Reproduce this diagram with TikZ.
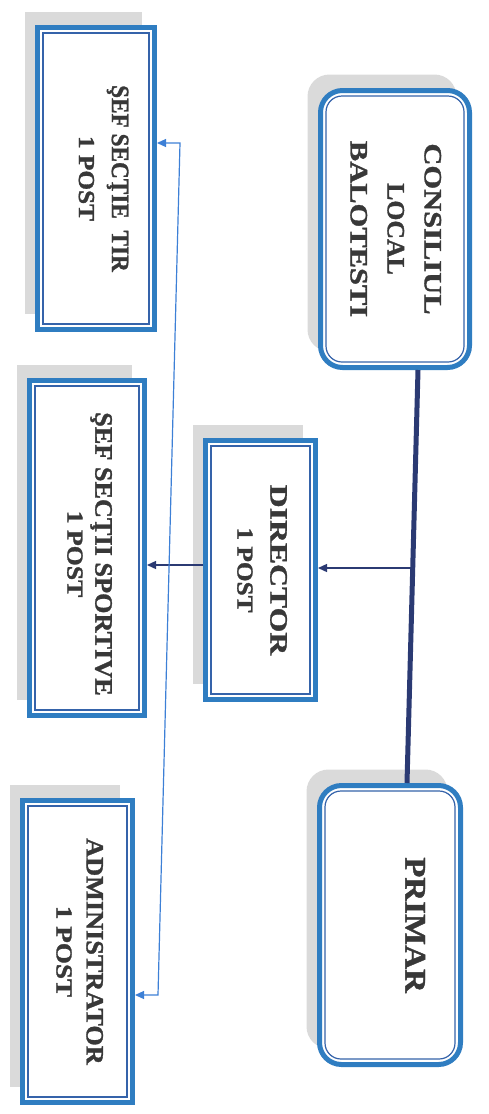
\documentclass[tikz,border=0pt]{standalone}
\usepackage{fontspec}
\setmainfont{Liberation Serif}[BoldFeatures={FakeBold=1.2}]
\usepackage{graphicx}
\usetikzlibrary{arrows.meta,shadows,calc}
\definecolor{boxblue}{HTML}{2F7DC1}
\definecolor{innerblue}{HTML}{3563AA}
\definecolor{navy}{HTML}{2B3A73}
\definecolor{linkblue}{HTML}{3D80D6}
\definecolor{txtgray}{HTML}{383838}
\definecolor{shade}{HTML}{DADADA}
\newcommand\strl[2]{\scalebox{#1}[1]{#2}}
\newcommand\vtext[1]{\rotatebox{-90}{\begin{tabular}{@{}c@{}}#1\end{tabular}}}
\newcommand\inframe[2]{\draw[#2] ($(#1.north west)+(8,8)$) rectangle ($(#1.south east)+(-8,-8)$);}
\begin{document}
\begin{tikzpicture}[x=1pt,y=-1pt,
  orgbox/.style={draw=boxblue, line width=5pt, fill=white, inner sep=0pt, text=txtgray,
    font=\bfseries\fontsize{25}{33}\selectfont,
    drop shadow={shadow xshift=-13pt, shadow yshift=16pt, fill=shade, opacity=1}},
  roundbox/.style={orgbox, rounded corners=22pt},
  innerline/.style={draw=innerblue, line width=1.2pt},
  innerround/.style={innerline, rounded corners=16pt},
  thickline/.style={draw=navy, line width=5pt},
  thinarrow/.style={draw=navy, line width=1.3pt, -{Triangle[length=9pt,width=8pt]}},
  bluelink/.style={draw=linkblue, line width=1.2pt, {Triangle[length=9pt,width=8pt]}-{Triangle[length=9pt,width=8pt]}}
]
\useasboundingbox (0,0) rectangle (488,1114);

% boxes
\node[roundbox, minimum width=149pt, minimum height=277pt, font=\bfseries\fontsize{25}{37}\selectfont] (CL) at (395,229)
  {\vtext{\strl{1.22}{CONSILIUL}\\ \strl{1.03}{LOCAL}\\ \strl{1.22}{BALOTESTI}}};
\node[roundbox, minimum width=141pt, minimum height=279pt] (PM) at (390,925)
  {\hspace*{44pt}\vtext{\fontsize{30}{36}\selectfont\strl{1.1}{PRIMAR}}};
\node[orgbox, minimum width=110pt, minimum height=259pt] (DR) at (260.5,570)
  {\vtext{\strl{1.27}{DIRECTOR}\\ \fontsize{23}{33}\selectfont\strl{1.1}{1 POST}}};
\node[orgbox, minimum width=117pt, minimum height=302pt] (TR) at (96,178.5)
  {\hspace*{12pt}\vtext{\strl{0.93}{ŞEF SECŢIE\ \ TIR}\\ \fontsize{23}{33}\selectfont\strl{1.1}{1 POST}}};
\node[orgbox, minimum width=115pt, minimum height=335pt, font=\bfseries\fontsize{25}{28}\selectfont] (SP) at (87,548)
  {\vtext{\hspace*{12pt}\strl{1.05}{ŞEF SECŢII SPORTIVE}\\ \hspace*{12pt}\fontsize{23}{28}\selectfont\strl{1.12}{1 POST}}};
\node[orgbox, minimum width=110pt, minimum height=302pt, font=\bfseries\fontsize{25}{30}\selectfont] (AD) at (77.5,951.5)
  {\vtext{\strl{1.05}{ADMINISTRATOR}\\ \fontsize{23}{30}\selectfont\strl{1.18}{1 POST}}};

% inner frames
\inframe{CL}{innerround}
\inframe{PM}{innerround}
\inframe{DR}{innerline}
\inframe{TR}{innerline}
\inframe{SP}{innerline}
\inframe{AD}{innerline}

% connectors
\coordinate (T1) at (418,0);
\coordinate (T2) at (407,0);
\coordinate (J) at (412.7,568);
\coordinate (K) at (0,565);
\coordinate (B1) at (180,143);
\coordinate (B2) at (158,995);
\draw[thickline] (CL.south -| T1) -- (PM.north -| T2);
\draw[thinarrow] (J) -- (DR.east |- J);
\draw[thinarrow] (DR.west |- K) -- (SP.east |- K);
\draw[bluelink] (TR.east |- B1) -- (B1) -- (B2) -- (AD.east |- B2);
\end{tikzpicture}
\end{document}
